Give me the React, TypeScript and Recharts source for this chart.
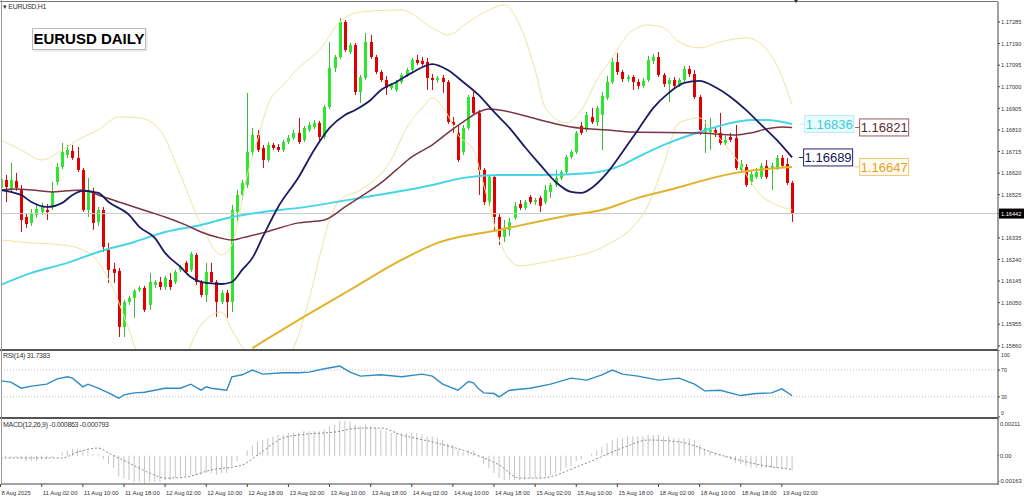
import React from "react";
import {
  Bar,
  ComposedChart,
  Line,
  ReferenceDot,
  ReferenceLine,
  XAxis,
  YAxis,
} from "recharts";

// EURUSD H1 candles [open, high, low, close], 8 Aug 18:00 -> 19 Aug 04:00
const candles: [number, number, number, number][] = [
  [1.16555, 1.16669, 1.16493, 1.16594], [1.1659, 1.16612, 1.16493, 1.16559], [1.1655, 1.16665, 1.16533, 1.1659], [1.16586, 1.16621, 1.16542, 1.16555],
  [1.1655, 1.16568, 1.16361, 1.16414], [1.16427, 1.1644, 1.16379, 1.16396], [1.16401, 1.16462, 1.16388, 1.16445], [1.16436, 1.1648, 1.16423, 1.16462],
  [1.16449, 1.16489, 1.16436, 1.16471], [1.16458, 1.16484, 1.16414, 1.16449], [1.16471, 1.16581, 1.16458, 1.16537], [1.16581, 1.16665, 1.16568, 1.16647],
  [1.16647, 1.16753, 1.16638, 1.16713], [1.167, 1.16744, 1.16687, 1.16722], [1.16718, 1.16744, 1.16678, 1.16687], [1.16687, 1.16735, 1.16625, 1.16634],
  [1.16634, 1.16643, 1.16449, 1.16458], [1.16458, 1.16599, 1.16427, 1.16546], [1.16537, 1.16555, 1.1637, 1.16401], [1.16405, 1.16471, 1.16388, 1.16458],
  [1.16458, 1.16471, 1.16273, 1.16295], [1.16282, 1.16313, 1.16137, 1.16194], [1.16198, 1.16225, 1.16137, 1.16181], [1.1619, 1.16203, 1.15899, 1.15943],
  [1.15943, 1.16062, 1.15899, 1.16053], [1.16053, 1.1608, 1.1604, 1.16071], [1.16071, 1.1611, 1.15983, 1.16102], [1.16106, 1.16124, 1.16097, 1.16115],
  [1.16115, 1.16124, 1.16009, 1.16018], [1.1604, 1.16181, 1.16018, 1.16141], [1.16128, 1.1615, 1.16115, 1.16141], [1.16141, 1.16163, 1.16106, 1.16119],
  [1.16119, 1.16168, 1.16106, 1.16159], [1.1615, 1.16181, 1.16106, 1.16119], [1.16141, 1.16194, 1.16132, 1.16185], [1.16194, 1.16216, 1.16185, 1.16207],
  [1.16225, 1.16234, 1.16176, 1.16185], [1.16194, 1.16273, 1.16185, 1.16264], [1.1626, 1.16269, 1.16128, 1.16141], [1.16141, 1.1615, 1.16075, 1.16084],
  [1.16084, 1.16225, 1.16053, 1.16185], [1.16185, 1.16225, 1.16132, 1.16141], [1.16141, 1.1615, 1.15987, 1.16053], [1.16053, 1.16106, 1.16044, 1.16093],
  [1.16093, 1.16106, 1.15983, 1.16053], [1.16053, 1.1648, 1.16009, 1.16458], [1.16449, 1.16546, 1.16405, 1.16524], [1.16524, 1.1659, 1.16502, 1.16577],
  [1.16568, 1.16973, 1.16555, 1.16713], [1.16713, 1.16819, 1.16696, 1.16788], [1.16788, 1.1681, 1.16713, 1.16722], [1.16731, 1.16744, 1.16643, 1.16678],
  [1.16678, 1.16757, 1.16669, 1.16744], [1.16744, 1.16753, 1.16722, 1.16731], [1.16735, 1.16748, 1.16713, 1.16722], [1.16722, 1.16766, 1.16713, 1.16757],
  [1.16757, 1.16788, 1.16748, 1.16775], [1.16775, 1.1681, 1.16766, 1.16797], [1.16797, 1.16863, 1.16748, 1.16757], [1.16766, 1.16828, 1.16757, 1.16819],
  [1.1681, 1.16845, 1.16801, 1.16832], [1.16823, 1.16854, 1.16814, 1.16841], [1.16841, 1.1685, 1.16757, 1.16779], [1.16779, 1.1692, 1.1677, 1.16911],
  [1.16911, 1.17197, 1.16902, 1.17083], [1.17083, 1.1714, 1.17065, 1.17131], [1.17131, 1.17303, 1.17122, 1.17285], [1.17285, 1.17294, 1.17153, 1.17162],
  [1.17153, 1.17193, 1.17144, 1.17184], [1.17184, 1.17193, 1.16964, 1.16977], [1.16977, 1.17052, 1.16929, 1.17043], [1.17039, 1.17237, 1.1703, 1.17197],
  [1.17197, 1.17228, 1.17122, 1.17131], [1.17131, 1.1714, 1.17056, 1.17065], [1.17065, 1.17074, 1.17021, 1.1703], [1.1703, 1.17048, 1.16964, 1.16995],
  [1.16995, 1.17017, 1.16986, 1.17008], [1.16986, 1.1703, 1.16977, 1.17021], [1.17021, 1.17061, 1.17012, 1.17052], [1.17052, 1.17083, 1.17043, 1.17074],
  [1.17074, 1.17127, 1.17065, 1.17118], [1.17118, 1.1714, 1.17096, 1.17105], [1.17114, 1.17131, 1.17092, 1.171], [1.17109, 1.17127, 1.16986, 1.17039],
  [1.17039, 1.17056, 1.16986, 1.1703], [1.1703, 1.17048, 1.17017, 1.17039], [1.17039, 1.17052, 1.16973, 1.17021], [1.17021, 1.1703, 1.16836, 1.16845],
  [1.16845, 1.16867, 1.16797, 1.16832], [1.16797, 1.16832, 1.16669, 1.16678], [1.16713, 1.16832, 1.167, 1.16819], [1.16819, 1.16964, 1.1681, 1.16955],
  [1.16955, 1.16977, 1.16876, 1.16885], [1.16885, 1.16898, 1.16524, 1.16634], [1.16634, 1.16643, 1.1648, 1.16493], [1.16493, 1.16612, 1.16476, 1.16603],
  [1.16603, 1.16612, 1.1637, 1.16427], [1.16427, 1.1644, 1.16304, 1.16339], [1.16339, 1.16414, 1.16317, 1.16379], [1.1637, 1.16423, 1.16344, 1.16405],
  [1.16423, 1.16493, 1.16414, 1.16476], [1.16484, 1.16502, 1.16458, 1.16467], [1.16467, 1.16502, 1.16458, 1.16493], [1.16515, 1.16524, 1.16484, 1.16493],
  [1.16493, 1.16511, 1.1648, 1.16502], [1.16511, 1.1652, 1.16449, 1.16476], [1.16493, 1.16568, 1.16484, 1.16546], [1.16537, 1.16577, 1.16511, 1.16568],
  [1.16568, 1.16634, 1.16559, 1.16599], [1.16599, 1.16634, 1.1659, 1.16625], [1.16625, 1.167, 1.16616, 1.16691], [1.16691, 1.16722, 1.16682, 1.16713],
  [1.16713, 1.16806, 1.16704, 1.16797], [1.16828, 1.16845, 1.16788, 1.16797], [1.1681, 1.16889, 1.16801, 1.16876], [1.16867, 1.16907, 1.16836, 1.16845],
  [1.16845, 1.16916, 1.16828, 1.16907], [1.16876, 1.16977, 1.16722, 1.1696], [1.16951, 1.17048, 1.16942, 1.17021], [1.17021, 1.17127, 1.17012, 1.17109],
  [1.17109, 1.17149, 1.17052, 1.17065], [1.17065, 1.17074, 1.17021, 1.17034], [1.17034, 1.17052, 1.17021, 1.17043], [1.17043, 1.17052, 1.16986, 1.17021],
  [1.17021, 1.17034, 1.1699, 1.17004], [1.17004, 1.17039, 1.16995, 1.17026], [1.1703, 1.17136, 1.17021, 1.17118], [1.17114, 1.17144, 1.171, 1.17131],
  [1.17131, 1.17153, 1.17043, 1.17052], [1.17052, 1.17061, 1.16999, 1.17012], [1.17012, 1.17039, 1.16933, 1.1703], [1.1703, 1.17043, 1.1699, 1.17004],
  [1.17004, 1.17039, 1.16999, 1.1703], [1.1703, 1.17092, 1.17021, 1.17078], [1.17078, 1.17092, 1.17043, 1.17056], [1.17056, 1.17074, 1.16946, 1.16955],
  [1.16955, 1.16964, 1.16788, 1.1681], [1.16801, 1.16854, 1.16709, 1.16819], [1.16801, 1.16863, 1.16722, 1.16814], [1.1681, 1.16823, 1.16779, 1.16797],
  [1.16797, 1.16885, 1.16744, 1.16753], [1.16753, 1.16784, 1.16744, 1.16766], [1.16779, 1.16797, 1.16757, 1.16766], [1.16775, 1.16832, 1.16634, 1.16643],
  [1.16634, 1.16678, 1.16625, 1.1666], [1.16647, 1.1666, 1.16559, 1.16568], [1.16581, 1.16634, 1.16568, 1.16616], [1.16603, 1.16643, 1.16594, 1.16625],
  [1.16603, 1.16665, 1.16594, 1.16652], [1.16652, 1.16678, 1.16594, 1.16603], [1.16643, 1.16665, 1.16546, 1.16652], [1.16643, 1.167, 1.16634, 1.16687],
  [1.16687, 1.167, 1.16643, 1.16652], [1.1666, 1.16687, 1.16568, 1.16577], [1.16577, 1.16586, 1.16405, 1.16442],
];

// moving averages and bands, [candle index, price]
const navyMA: [number, number][] = [
  [0, 1.16546], [2, 1.16537], [4, 1.16524], [6, 1.16493], [9, 1.16471], [12, 1.16489], [14, 1.16524], [16, 1.16542],
  [19, 1.16533], [21, 1.16493], [25, 1.16436], [27, 1.16383], [30, 1.16335], [32, 1.16269], [35, 1.16207], [37, 1.16163],
  [40, 1.16137], [43, 1.16132], [45, 1.16141], [47, 1.16194], [49, 1.16247], [51, 1.16339], [54, 1.16471], [58, 1.16603],
  [61, 1.16722], [64, 1.16819], [67, 1.16876], [69, 1.16898], [72, 1.16942], [74, 1.16986], [77, 1.17021], [80, 1.17061],
  [84, 1.171], [87, 1.17074], [90, 1.17021], [93, 1.16964], [96, 1.16889], [99, 1.16819], [102, 1.16735], [105, 1.16656],
  [108, 1.16581], [111, 1.16537], [113, 1.16533], [115, 1.16555], [118, 1.16621], [121, 1.16713], [124, 1.1681], [127, 1.16907],
  [130, 1.16973], [133, 1.17017], [136, 1.17026], [139, 1.16999], [142, 1.16955], [145, 1.16898], [148, 1.16832], [151, 1.16766],
  [154, 1.16689],
];
const maroonMA: [number, number][] = [
  [0, 1.16546], [3, 1.1655], [6, 1.16546], [10, 1.16537], [13, 1.16542], [16, 1.16546], [19, 1.16524], [23, 1.16493],
  [26, 1.16471], [29, 1.16449], [32, 1.16427], [36, 1.16392], [39, 1.16361], [42, 1.16339], [45, 1.16326], [47, 1.16335],
  [51, 1.16357], [58, 1.16401], [63, 1.16414], [67, 1.16471], [70, 1.16515], [74, 1.16577], [77, 1.16634], [80, 1.16691],
  [84, 1.16744], [87, 1.16797], [90, 1.16845], [93, 1.16889], [95, 1.16902], [97, 1.16898], [105, 1.16854], [111, 1.16823],
  [118, 1.1681], [123, 1.16801], [136, 1.16797], [143, 1.16788], [146, 1.16797], [149, 1.16814], [152, 1.16823], [154, 1.16821],
];
const cyanMA: [number, number][] = [
  [0, 1.16128], [6, 1.16181], [13, 1.16225], [19, 1.16273], [26, 1.16317], [32, 1.16361], [39, 1.16392], [45, 1.16427],
  [51, 1.16449], [58, 1.16467], [70, 1.16511], [84, 1.16568], [90, 1.16599], [97, 1.16612], [105, 1.16612], [115, 1.16621],
  [121, 1.16656], [124, 1.16691], [130, 1.16753], [136, 1.16801], [143, 1.16845], [146, 1.16854], [149, 1.16854], [154, 1.16836],
];
const orangeMA: [number, number][] = [
  [49, 1.1585], [58, 1.15974], [68, 1.16106], [78, 1.16238], [85, 1.16313], [97, 1.1637], [111, 1.16436], [117, 1.16458],
  [124, 1.16511], [130, 1.16546], [143, 1.16621], [154, 1.16647],
];
const bandUpper: [number, number][] = [
  [0, 1.16766], [4, 1.16722], [8, 1.16678], [12, 1.16722], [15, 1.16766], [19, 1.1681], [23, 1.16867], [27, 1.16863],
  [31, 1.1681], [35, 1.16612], [39, 1.16392], [43, 1.1626], [45, 1.16304], [46, 1.16392], [48, 1.16612], [50, 1.16766],
  [52, 1.1692], [55, 1.17008], [58, 1.17083], [62, 1.17162], [66, 1.17285], [70, 1.17329], [78, 1.17338], [84, 1.17259],
  [87, 1.17228], [91, 1.17285], [95, 1.17338], [98, 1.1736], [101, 1.17272], [104, 1.17074], [106, 1.16907], [110, 1.16841],
  [113, 1.16898], [116, 1.1703], [119, 1.17127], [122, 1.17228], [126, 1.17272], [129, 1.17259], [132, 1.17197], [136, 1.17171],
  [140, 1.17197], [145, 1.17215], [148, 1.17188], [151, 1.17096], [154, 1.1692],
];
const bandLower: [number, number][] = [
  [0, 1.16326], [6, 1.16313], [12, 1.16304], [16, 1.16282], [19, 1.16229], [22, 1.16106], [25, 1.1593], [27, 1.1582],
  [35, 1.15798], [39, 1.15952], [43, 1.16009], [45, 1.1593], [48, 1.15833], [55, 1.15798], [60, 1.16062], [62, 1.16247],
  [64, 1.16414], [66, 1.16502], [70, 1.16546], [76, 1.16678], [79, 1.16819], [82, 1.16907], [84, 1.16951], [87, 1.16876],
  [89, 1.16788], [92, 1.16722], [94, 1.16568], [97, 1.16326], [101, 1.16212], [106, 1.16229], [110, 1.16247], [115, 1.16273],
  [119, 1.16317], [122, 1.16361], [126, 1.1648], [129, 1.16656], [132, 1.16841], [136, 1.16863], [138, 1.16819], [143, 1.16687],
  [148, 1.1652], [151, 1.1648], [154, 1.16458],
];

// RSI(14), [candle index, value]
const rsiPoints: [number, number][] = [
  [0, 54], [2, 52], [4, 43], [6, 46], [9, 49], [11, 57], [13, 60], [14, 58], [16, 45], [17, 49], [19, 43], [21, 36],
  [23, 28], [24, 33], [26, 36], [28, 37], [30, 40], [32, 43], [35, 43], [37, 49], [39, 40], [40, 45], [41, 43], [44, 40],
  [45, 60], [47, 63], [49, 70], [51, 64], [55, 66], [58, 66], [60, 67], [63, 72], [66, 76], [68, 67], [70, 61], [74, 63],
  [78, 60], [82, 64], [84, 61], [86, 49], [89, 40], [91, 53], [92, 51], [93, 42], [94, 36], [96, 35], [97, 30], [99, 40],
  [103, 43], [107, 49], [111, 58], [114, 55], [117, 63], [119, 70], [121, 64], [124, 61], [128, 55], [132, 58], [135, 49],
  [137, 39], [140, 40], [144, 32], [147, 35], [150, 36], [152, 42], [154, 31.74],
];

// MACD(12,26,9) main line, one value per candle
const macdMain: number[] = [
  -0.0001, -0.0001, -0.0001, -0.0001, -0.0002, -0.0003, -0.0003, -0.0003, -0.0002, -0.0002,
  -0.0001, 0.0, 0.0002, 0.0003, 0.0004, 0.0004, 0.0003, 0.0003, 0.0001, 0.0001,
  -0.0002, -0.0005, -0.0007, -0.0012, -0.0013, -0.0014, -0.0015, -0.0015, -0.0016, -0.0015,
  -0.0015, -0.0015, -0.0014, -0.0014, -0.0013, -0.0012, -0.0012, -0.0011, -0.0011, -0.0011,
  -0.001, -0.001, -0.0011, -0.001, -0.001, -0.0006, -0.0003, 0.0, 0.0003, 0.0006,
  0.0008, 0.0009, 0.001, 0.0011, 0.0012, 0.0012, 0.0013, 0.0013, 0.0013, 0.0014,
  0.0014, 0.0014, 0.0014, 0.0015, 0.0017, 0.0018, 0.002, 0.002, 0.002, 0.0018,
  0.0017, 0.0018, 0.0017, 0.0016, 0.0015, 0.0014, 0.0013, 0.0013, 0.0013, 0.0013,
  0.0013, 0.0013, 0.0012, 0.0011, 0.0011, 0.001, 0.0009, 0.0007, 0.0006, 0.0003,
  0.0002, 0.0003, 0.0003, -0.0001, -0.0005, -0.0007, -0.001, -0.0013, -0.0014, -0.0014,
  -0.0014, -0.0014, -0.0014, -0.0013, -0.0013, -0.0013, -0.0012, -0.0011, -0.001, -0.0009,
  -0.0007, -0.0006, -0.0003, -0.0002, 0.0, 0.0001, 0.0003, 0.0005, 0.0007, 0.0009,
  0.001, 0.001, 0.0011, 0.0011, 0.0011, 0.0011, 0.0012, 0.0012, 0.0012, 0.0011,
  0.0011, 0.001, 0.001, 0.001, 0.001, 0.0009, 0.0006, 0.0004, 0.0003, 0.0002,
  0.0001, -0.0001, -0.0002, -0.0004, -0.0005, -0.0006, -0.0007, -0.0007, -0.0007, -0.0007,
  -0.0007, -0.0007, -0.0007, -0.0007, -0.00086,
];
const macdSignal: [number, number][] = [
  [0, -0.00013], [12, -0.00013], [15, 0.00021], [19, 0.00044], [21, 0.00015], [25, -0.00042], [29, -0.001], [32, -0.00129],
  [36, -0.00123], [41, -0.00082], [47, -0.00054], [50, 0.00004], [55, 0.00102], [58, 0.00119], [65, 0.00136], [70, 0.00159],
  [74, 0.00159], [78, 0.00119], [84, 0.00079], [91, 0.00021], [97, -0.00054], [101, -0.00129], [105, -0.00129], [113, -0.00054],
  [121, 0.00044], [126, 0.0009], [132, 0.00079], [140, 0.00004], [148, -0.00054], [154, -0.00079],
];

const priceTicks = [
  1.17285, 1.1719, 1.17095, 1.17, 1.16905, 1.1681, 1.16715, 1.1662, 1.16525, 1.16442,
  1.16335, 1.1624, 1.16145, 1.1605, 1.15955, 1.1586,
];
const bidPrice = 1.16442;
const timeTickIndex = [0, 8, 16, 24, 32, 40, 48, 56, 64, 72, 80, 88, 96, 104, 112, 120, 128, 136, 144, 152];
const timeTickLabels = [
  "8 Aug 2025", "11 Aug 02:00", "11 Aug 10:00", "11 Aug 18:00", "12 Aug 02:00", "12 Aug 10:00", "12 Aug 18:00",
  "13 Aug 02:00", "13 Aug 10:00", "13 Aug 18:00", "14 Aug 02:00", "14 Aug 10:00", "14 Aug 18:00", "15 Aug 02:00",
  "15 Aug 10:00", "15 Aug 18:00", "18 Aug 02:00", "18 Aug 10:00", "18 Aug 18:00", "19 Aug 02:00",
];

const X_DOMAIN: [number, number] = [0.08, 194.05];
const SMALL = "'Liberation Sans', Arial, sans-serif";
const AXIS = "#444";

function fill(rows: any[], key: string, pts: [number, number][]) {
  pts.forEach(([i, v]) => {
    rows[i][key] = v;
  });
  return rows;
}

const priceRows: any[] = candles.map(([o, h, l, c], i) => ({ i, o, h, l, c, range: [l, h] }));
fill(priceRows, "navy", navyMA);
fill(priceRows, "maroon", maroonMA);
fill(priceRows, "cyan", cyanMA);
fill(priceRows, "orange", orangeMA);
fill(priceRows, "upper", bandUpper);
fill(priceRows, "lower", bandLower);

const rsiRows: any[] = fill(candles.map((_, i) => ({ i })), "rsi", rsiPoints);
const macdRows: any[] = fill(macdMain.map((m, i) => ({ i, macd: m })), "signal", macdSignal);

// small axis text, squeezed like the terminal's narrow font
function Small({ x, y, text, color = "#333" }: any) {
  return (
    <text
      x={x}
      y={y}
      fontSize={6}
      fontFamily={SMALL}
      fill={color}
      textAnchor="start"
      textLength={text.length * 2.9}
      lengthAdjust="spacingAndGlyphs"
    >
      {text}
    </text>
  );
}

function Candle(props: any) {
  const { x, y, width, height, payload } = props;
  if (!payload || x == null || y == null) return null;
  const { o, h, l, c } = payload;
  const top = Math.min(y, y + height);
  const span = Math.abs(height);
  const py = (p: number) => (h === l ? top : top + ((h - p) / (h - l)) * span);
  const cx = Math.round(x + width / 2) + 0.5;
  const up = c >= o;
  const bTop = py(Math.max(o, c));
  const bBot = py(Math.min(o, c));
  return (
    <g>
      <line x1={cx} x2={cx} y1={top} y2={top + span} stroke={up ? "#3cb83c" : "#d01010"} strokeWidth={1} />
      <rect x={cx - 1.5} y={bTop} width={3} height={Math.max(1, bBot - bTop)} fill={up ? "#2ee62e" : "#e00000"} />
    </g>
  );
}

function tagShape(text: string, color: string, border: string, bg: string) {
  return (p: any) => {
    const { cx, cy } = p;
    if (cx == null || cy == null) return <g />;
    return (
      <g>
        <line x1={cx - 29} x2={cx - 25} y1={cy} y2={cy} stroke={border} />
        <rect x={cx - 24.5} y={cy - 8.5} width={49} height={17} fill={bg} stroke={border} />
        <text x={cx} y={cy + 5} textAnchor="middle" fontSize={13} fontFamily="'Liberation Sans', Arial" fill={color}>
          {text}
        </text>
      </g>
    );
  };
}

function PriceTick(props: any) {
  const { x, y, payload } = props;
  const v = payload.value as number;
  const label = v.toFixed(5);
  if (Math.abs(v - bidPrice) < 1e-7) {
    return (
      <g>
        <rect x={x - 2} y={y - 5} width={26} height={10} fill="#000" />
        <Small x={x} y={y + 2.2} text={label} color="#fff" />
      </g>
    );
  }
  return <Small x={x} y={y + 2.2} text={label} />;
}

function SubTick(props: any) {
  const { x, y, payload, labels, shift, dx } = props;
  const k = payload.value;
  return <Small x={x + ((dx && dx[k]) ?? 0)} y={y + 2.2 + (shift[k] ?? 0)} text={labels[k]} />;
}

function TimeTick(props: any) {
  const { x, y, payload } = props;
  const k = timeTickIndex.indexOf(payload.value);
  return <Small x={x + 1} y={y + 6} text={timeTickLabels[k]} />;
}

const hline = (top: number, h = 1, color = "#555"): React.CSSProperties => ({
  position: "absolute",
  left: 0,
  top,
  width: 998,
  height: h,
  background: color,
});

const smallText: React.CSSProperties = {
  position: "absolute",
  fontFamily: SMALL,
  fontSize: 7,
  color: "#333",
  lineHeight: "8px",
  letterSpacing: -0.3,
  whiteSpace: "nowrap",
};

export default function App() {
  return (
    <div style={{ position: "absolute", left: 0, top: 0, width: 1024, height: 502, background: "#fff", overflow: "hidden" }}>
      <div style={{ position: "absolute", left: 0, top: 0 }}>
        <ComposedChart width={1024} height={350} data={priceRows} margin={{ top: 2, right: 0, bottom: 1, left: 1 }}>
          <XAxis type="number" dataKey="i" domain={X_DOMAIN} allowDataOverflow hide />
          <YAxis
            orientation="right"
            width={26}
            domain={[1.15846, 1.17373]}
            allowDataOverflow
            ticks={priceTicks}
            interval={0}
            tick={<PriceTick />}
            tickSize={2}
            tickMargin={1}
            tickLine={{ stroke: AXIS }}
            axisLine={{ stroke: AXIS }}
          />
          <ReferenceLine y={bidPrice} stroke="#c8c8c8" strokeWidth={1} />
          <Line dataKey="upper" type="monotone" stroke="#eee39c" strokeWidth={1} dot={false} connectNulls isAnimationActive={false} />
          <Line dataKey="lower" type="monotone" stroke="#eee39c" strokeWidth={1} dot={false} connectNulls isAnimationActive={false} />
          <Line dataKey="orange" type="monotone" stroke="#e2b22c" strokeWidth={2} dot={false} connectNulls isAnimationActive={false} />
          <Line dataKey="cyan" type="monotone" stroke="#46d4e6" strokeWidth={2} dot={false} connectNulls isAnimationActive={false} />
          <Line dataKey="maroon" type="monotone" stroke="#7a3444" strokeWidth={1.5} dot={false} connectNulls isAnimationActive={false} />
          <Bar dataKey="range" barSize={3} shape={(p: any) => <Candle {...p} />} isAnimationActive={false} />
          <Line dataKey="navy" type="monotone" stroke="#1b1b64" strokeWidth={1.8} dot={false} connectNulls isAnimationActive={false} />
          <ReferenceDot x={161.2} y={1.16836} shape={tagShape("1.16836", "#3ccbe0", "#b8eef6", "#e8fcff")} />
          <ReferenceDot x={171.9} y={1.16821} shape={tagShape("1.16821", "#5a2a30", "#9a5a60", "#fff")} />
          <ReferenceDot x={161} y={1.16689} shape={tagShape("1.16689", "#14145a", "#20206a", "#fff")} />
          <ReferenceDot x={171.9} y={1.16647} shape={tagShape("1.16647", "#e0a428", "#f2c878", "#fffaf0")} />
        </ComposedChart>
      </div>

      <div style={{ position: "absolute", left: 0, top: 350 }}>
        <ComposedChart width={1024} height={68} data={rsiRows} margin={{ top: 0, right: 0, bottom: 1, left: 1 }}>
          <XAxis type="number" dataKey="i" domain={X_DOMAIN} allowDataOverflow hide />
          <YAxis
            orientation="right"
            width={26}
            domain={[0, 100]}
            ticks={[0, 30, 70, 100]}
            interval={0}
            tick={<SubTick labels={{ 0: "0", 30: "30", 70: "70", 100: "100" }} shift={{ 100: 5, 0: -4 }} />}
            tickSize={2}
            tickMargin={1}
            tickLine={{ stroke: AXIS }}
            axisLine={{ stroke: AXIS }}
          />
          <ReferenceLine y={70} stroke="#bdbdbd" strokeDasharray="1 2" />
          <ReferenceLine y={30} stroke="#bdbdbd" strokeDasharray="1 2" />
          <Line dataKey="rsi" type="linear" stroke="#2f8cc2" strokeWidth={1.4} dot={false} connectNulls isAnimationActive={false} />
        </ComposedChart>
      </div>

      <div style={{ position: "absolute", left: 0, top: 418 }}>
        <ComposedChart width={1024} height={84} data={macdRows} margin={{ top: 1, right: 0, bottom: 2, left: 1 }}>
          <XAxis
            type="number"
            dataKey="i"
            domain={X_DOMAIN}
            allowDataOverflow
            ticks={timeTickIndex}
            interval={0}
            height={16}
            tick={<TimeTick />}
            tickSize={3}
            tickLine={{ stroke: AXIS }}
            axisLine={{ stroke: AXIS }}
          />
          <YAxis
            orientation="right"
            width={26}
            domain={[-0.00163, 0.00211]}
            allowDataOverflow
            ticks={[0.00211, 0, -0.00163]}
            interval={0}
            tick={
              <SubTick
                labels={{ 0.00211: "0.00211", 0: "0.00", [-0.00163]: "-0.00163" }}
                shift={{ 0.00211: 5, [-0.00163]: -3 }}
                dx={{ [-0.00163]: -1.5 }}
              />
            }
            tickSize={1}
            tickMargin={1}
            tickLine={{ stroke: AXIS }}
            axisLine={{ stroke: AXIS }}
          />
          <Bar dataKey="macd" barSize={1} fill="#c4c4c4" isAnimationActive={false} />
          <Line dataKey="signal" type="monotone" stroke="#8a8a8a" strokeWidth={1} strokeDasharray="2 2" dot={false} connectNulls isAnimationActive={false} />
        </ComposedChart>
      </div>

      <div style={hline(1, 1, "#777")} />
      <div style={hline(349, 2, "#555")} />
      <div style={hline(417, 2, "#555")} />
      <div style={{ position: "absolute", left: 1, top: 0, width: 1, height: 484, background: "#999" }} />

      <div style={{ ...smallText, left: 3, top: 3 }}>▾ EURUSD,H1</div>
      <div
        style={{
          position: "absolute",
          left: 794,
          top: 0,
          width: 0,
          height: 0,
          borderLeft: "2px solid transparent",
          borderRight: "2px solid transparent",
          borderTop: "3px solid #333",
        }}
      />
      <div
        style={{
          position: "absolute",
          left: 32,
          top: 28,
          width: 112,
          height: 20,
          border: "1px solid #bbb",
          boxShadow: "1px 1px 2px #ddd",
          background: "#fff",
          fontFamily: "'Liberation Sans', Arial, sans-serif",
          fontWeight: 900,
          fontSize: 15,
          lineHeight: "20px",
          textAlign: "center",
          color: "#000",
        }}
      >
        EURUSD DAILY
      </div>
      <div style={{ ...smallText, left: 3, top: 352 }}>RSI(14) 31.7383</div>
      <div style={{ ...smallText, left: 3, top: 421 }}>MACD(12,26,9) -0.000863 -0.000793</div>
    </div>
  );
}
